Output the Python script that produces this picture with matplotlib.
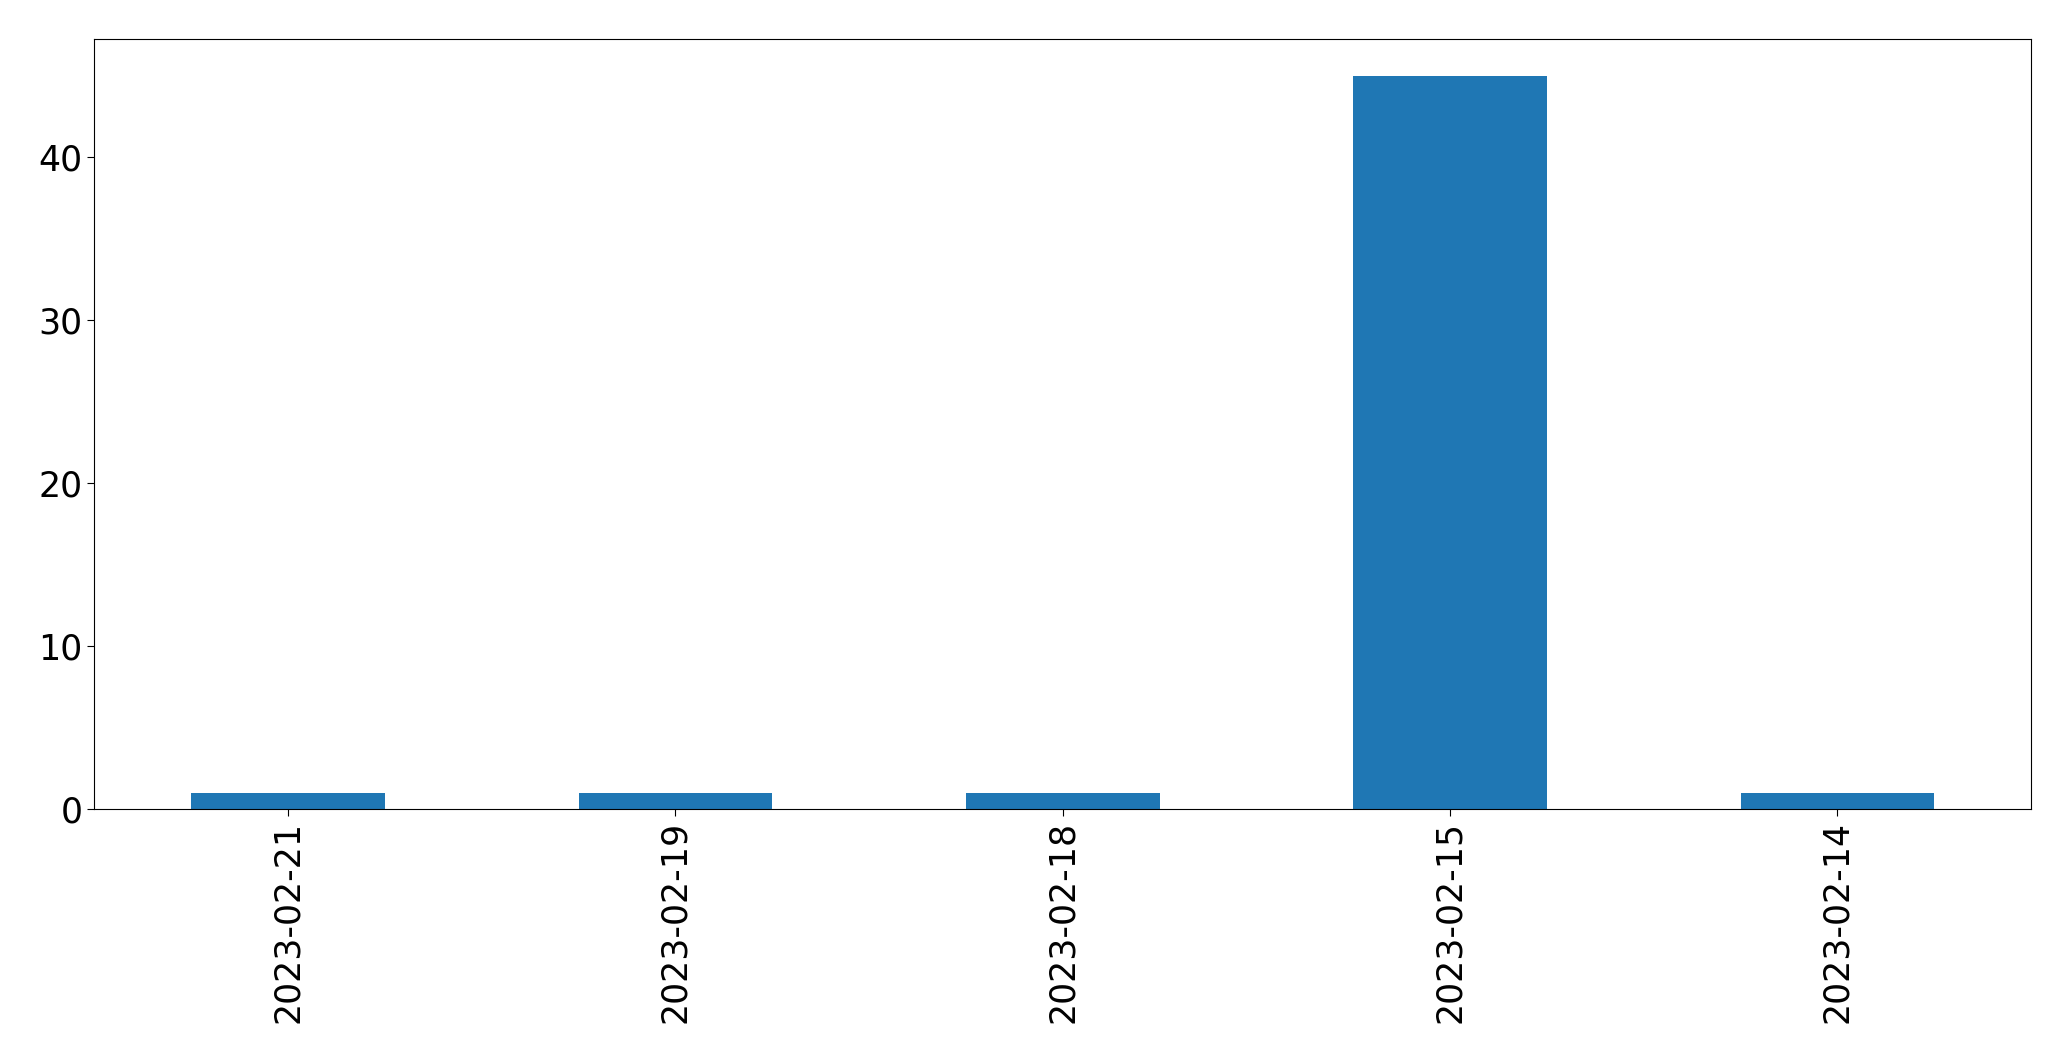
import matplotlib
matplotlib.use("Agg")
import matplotlib.pyplot as plt

# Dados
dates = ['2023-02-21', '2023-02-19', '2023-02-18', '2023-02-15', '2023-02-14']
counts = [1, 1, 1, 45, 1]

fig = plt.figure(figsize=(20.71, 10.61), dpi=100)
ax = fig.add_axes([0.0456, 0.2375, 0.9351, 0.7257])

positions = list(range(len(dates)))
ax.bar(positions, counts, width=0.5, color='#1f77b4')
ax.set_xlim(-0.5, len(dates) - 0.5)
ax.set_ylim(0, max(counts) * 1.05)
ax.set_xticks(positions)
ax.set_xticklabels(dates, rotation=90)
ax.tick_params(axis='both', labelsize=25, length=5)

fig.savefig('out.png', dpi=100)
